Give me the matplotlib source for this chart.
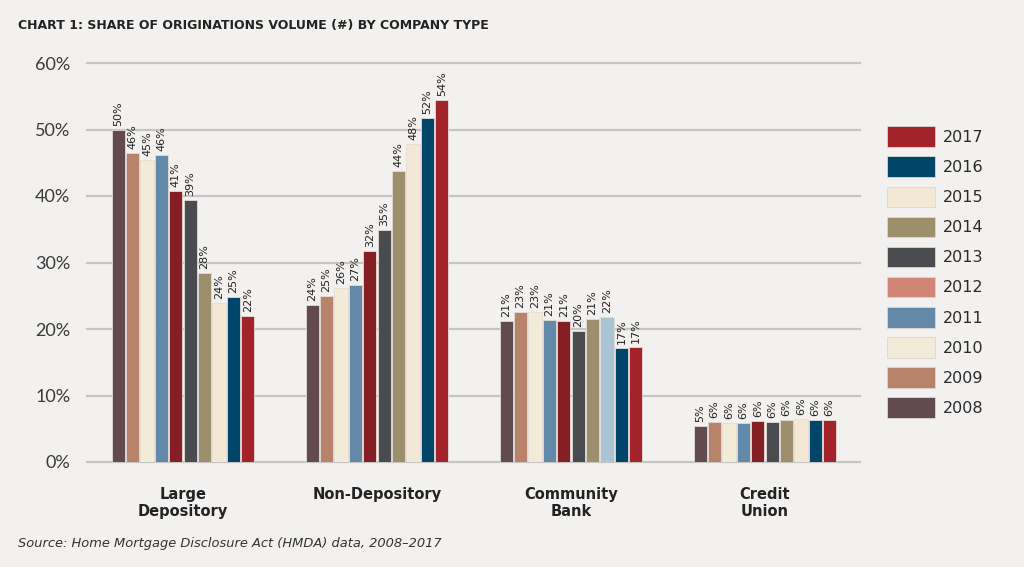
import numpy as np
import matplotlib.pyplot as plt
from matplotlib.patches import Patch

groups = ['Large\nDepository', 'Non-Depository', 'Community\nBank', 'Credit\nUnion']
years = ['2008', '2009', '2010', '2011', '2012', '2013', '2014', '2015', '2016', '2017']

# share (%) per year, one list per company type
large_dep = [50.0, 46.4, 45.4, 46.2, 40.8, 39.4, 28.4, 23.9, 24.8, 22.0]
non_dep = [23.6, 24.9, 26.1, 26.6, 31.8, 34.9, 43.8, 47.8, 51.8, 54.4]
community = [21.2, 22.6, 22.6, 21.35, 21.25, 19.65, 21.45, 21.8, 17.15, 17.3]
credit_union = [5.4, 5.95, 5.9, 5.85, 6.2, 5.95, 6.35, 6.4, 6.3, 6.35]

values = np.array([large_dep, non_dep, community, credit_union])

bar_colors = ['#614a50', '#b7836a', '#f2ebd7', '#6289a7', '#861f25',
              '#4a4b4f', '#9e8f6c', '#f2e8d5', '#00466a', '#a4232a']
legend_colors = ['#614a50', '#b7836a', '#f2ebd7', '#6289a7', '#d08575',
                 '#4a4b4f', '#9e8f6c', '#f2e8d5', '#00466a', '#a4232a']
bg = '#f2f1ef'

fig = plt.figure(figsize=(10.24, 5.67), dpi=100, facecolor=bg)
ax = fig.add_axes([87 / 1024, 105 / 567, 773 / 1024, 399 / 567])
ax.set_facecolor(bg)

x = np.arange(len(groups))
slot = 0.0742
bw = 0.068
for i, yr in enumerate(years):
    cols = [bar_colors[i]] * len(groups)
    if yr == '2015':
        cols[2] = '#a9c4d4'
    pos = x + (i - 4.5) * slot
    ax.bar(pos, values[:, i], width=bw, color=cols, edgecolor='#e4dcd6',
           linewidth=0.6, zorder=3)
    for xp, v in zip(pos, values[:, i]):
        ax.text(xp, v + 0.6, f'{v:.0f}%', rotation=90, ha='center', va='bottom',
                fontsize=8, color='#222222', zorder=4)

ax.set_xlim(-0.495, 3.49)
ax.set_ylim(0, 60)
ax.set_yticks(range(0, 61, 10))
ax.set_yticklabels([f'{t}%' for t in range(0, 61, 10)], fontsize=13,
                   color='#3a3a3a', family='Lato')
ax.tick_params(axis='y', length=0, pad=12)
ax.set_xticks(x)
ax.set_xticklabels(groups, fontsize=10.5, fontweight='bold', color='#222222')
ax.tick_params(axis='x', length=0, pad=18)
ax.grid(axis='y', color='#c6c5c3', linewidth=1.6, zorder=0)
for gl in ax.get_ygridlines():
    gl.set_clip_on(False)
for s in ax.spines.values():
    s.set_visible(False)

handles = [Patch(facecolor=legend_colors[i], edgecolor='#dcd6d0', linewidth=0.6)
           for i in range(len(years))][::-1]
fig.legend(handles, years[::-1], loc='upper left', bbox_to_anchor=(881 / 1024, 1 - 120 / 567),
           frameon=False, fontsize=11.5, handlelength=3.0, handleheight=1.6,
           labelspacing=0.6, handletextpad=0.45, borderaxespad=0,
           labelcolor='#2a2a2a')

fig.text(18 / 1024, 1 - 25 / 567, 'CHART 1: SHARE OF ORIGINATIONS VOLUME (#) BY COMPANY TYPE',
         fontsize=9, fontweight='bold', color='#222222', va='center')
fig.text(18 / 1024, 1 - 544 / 567, 'Source: Home Mortgage Disclosure Act (HMDA) data, 2008\u20132017',
         fontsize=9.4, style='italic', color='#333333', va='center')

fig.savefig('out.png', dpi=100, facecolor=bg)
